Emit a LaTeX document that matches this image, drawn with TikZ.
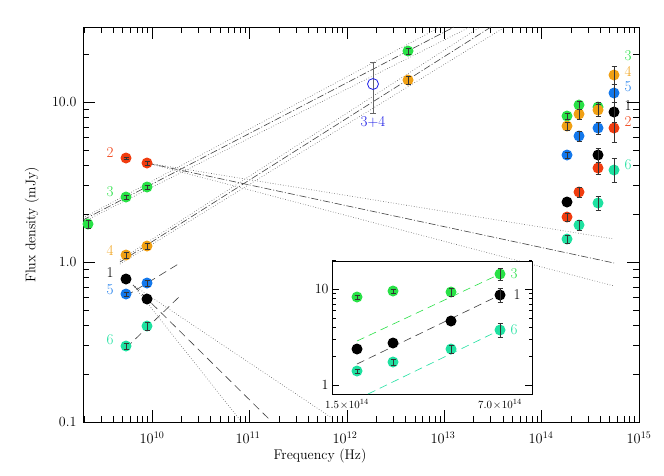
\documentclass[tikz,border=0pt]{standalone}
\usepackage{tikz}
\usetikzlibrary{calc,positioning,arrows.meta}
\definecolor{cred}{RGB}{240,60,15}
\definecolor{cgreen}{RGB}{40,225,70}
\definecolor{corange}{RGB}{240,160,20}
\definecolor{cblue}{RGB}{20,120,235}
\definecolor{ccyan}{RGB}{30,225,160}
\definecolor{cobs}{RGB}{30,30,230}
\tikzset{
  lbl/.style={font=\fontsize{15}{15}\selectfont,inner sep=0pt},
  ticklbl/.style={font=\fontsize{14}{14}\selectfont},
  fit/.style={line width=0.6pt,black!75,dash pattern=on 7pt off 2pt on 1pt off 2pt},
  bound/.style={line width=0.6pt,dotted,black!65},
  dashfit/.style={line width=0.6pt,black!75,dash pattern=on 8pt off 5pt},
}
% data point with error bar: x, y, half height, colour
\newcommand{\datpt}[4]{%
  \fill[#4] (#1,#2) circle (5.5);
  \draw[line width=0.5pt,black!80] (#1,#2-#3) -- (#1,#2+#3)
    (#1-2.5,#2-#3) -- (#1+2.5,#2-#3) (#1-2.5,#2+#3) -- (#1+2.5,#2+#3);}
\begin{document}
\begin{tikzpicture}[x=1pt,y=-1pt]
  \useasboundingbox (0,0) rectangle (664,475);
  % frame
  \draw[line width=0.5pt] (83,27) rectangle (639,422);
  % x ticks
  \foreach \d in {9,...,14}{
    \foreach \m in {1,...,9}{
      \pgfmathsetmacro{\xx}{152+97.4*(\d-10+log10(\m))}
      \pgfmathsetmacro{\tl}{\m==1 ? 12 : 6}
      \ifdim\xx pt>83pt \ifdim\xx pt<639pt
        \draw[line width=0.4pt] (\xx,422) -- ++(0,-\tl) (\xx,27) -- ++(0,\tl);
      \fi\fi}}
  % y ticks
  \foreach \d in {-1,0,1}{
    \foreach \m in {1,...,9}{
      \pgfmathsetmacro{\yy}{262-160*(\d+log10(\m))}
      \pgfmathsetmacro{\tl}{\m==1 ? 12 : 6}
      \ifdim\yy pt>27pt
        \draw[line width=0.4pt] (83,\yy) -- ++(\tl,0) (639,\yy) -- ++(-\tl,0);
      \fi}}
  \node[ticklbl] at (152,438) {$10^{10}$};
  \node[ticklbl] at (248,438) {$10^{11}$};
  \node[ticklbl] at (345,438) {$10^{12}$};
  \node[ticklbl] at (443,438) {$10^{13}$};
  \node[ticklbl] at (541,438) {$10^{14}$};
  \node[ticklbl] at (639,438) {$10^{15}$};
  \node[ticklbl,left] at (80,102) {10.0};
  \node[ticklbl,left] at (80,262) {1.0};
  \node[ticklbl,left] at (80,422) {0.1};
  \node[ticklbl] at (320,456) {Frequency (Hz)};
  \node[ticklbl,rotate=90] at (32,225) {Flux density (mJy)};
  % fits
  \draw[fit] (83,220) -- (454,27);
  \draw[bound] (83,218) -- (440,27);
  \draw[bound] (83,222) -- (470,27);
  \draw[fit] (120,262) -- (491,27);
  \draw[bound] (120,260) -- (480,27);
  \draw[bound] (120,264) -- (505,27);
  \draw[fit] (147,163) -- (614,263);
  \draw[bound] (147,163) -- (614,239);
  \draw[bound] (147,163) -- (614,286);
  \draw[dashfit] (133,285) -- (270,420);
  \draw[bound] (133,285) -- (240,420);
  \draw[bound] (133,285) -- (332,418);
  \draw[dashfit] (126,296) -- (180,263);
  \draw[dashfit] (126,348) -- (180,296);
  % radio and submm points
  \datpt{88}{224}{4}{cgreen}
  \datpt{126}{197}{2}{cgreen}
  \datpt{147}{187}{2}{cgreen}
  \datpt{408}{51}{3}{cgreen}
  \datpt{126}{158}{1}{cred}
  \datpt{147}{163}{2}{cred}
  \datpt{126}{255}{3}{corange}
  \datpt{147}{246}{3}{corange}
  \datpt{408}{80}{4}{corange}
  \fill (126,279) circle (5.5);
  \fill (147,299) circle (5.5);
  \datpt{126}{294}{2}{cblue}
  \datpt{147}{283}{3}{cblue}
  \datpt{126}{346}{3}{ccyan}
  \datpt{147}{326}{4}{ccyan}
  \draw[line width=0.5pt,black!60] (373,62) -- (373,113) (370,62) -- (376,62) (370,113) -- (376,113);
  \draw[cobs,line width=0.8pt] (373,84) circle (5.5);
  \node[lbl,cobs] at (373,122) {3+4};
  % infrared points
  \datpt{567}{116}{3}{cgreen}
  \datpt{579}{105}{4}{cgreen}
  \datpt{598}{107}{5}{cgreen}
  \datpt{567}{126}{4}{corange}
  \datpt{579}{114}{5}{corange}
  \datpt{598}{110}{6}{corange}
  \datpt{614}{75}{9}{corange}
  \datpt{567}{155}{3}{cblue}
  \datpt{579}{136}{5}{cblue}
  \datpt{598}{128}{6}{cblue}
  \datpt{614}{93}{9}{cblue}
  \datpt{567}{217}{4}{cred}
  \datpt{579}{192}{5}{cred}
  \datpt{598}{168}{6}{cred}
  \datpt{614}{128}{14}{cred}
  \datpt{598}{155}{7}{black}
  \datpt{614}{112}{10}{black}
  \fill (567,202) circle (5.5);
  \datpt{567}{239}{4}{ccyan}
  \datpt{579}{225}{5}{ccyan}
  \datpt{598}{203}{7}{ccyan}
  \datpt{614}{170}{12}{ccyan}
  % curve labels
  \node[lbl,cred] at (110,153) {2};
  \node[lbl,cgreen] at (110,192) {3};
  \node[lbl,corange] at (110,250) {4};
  \node[lbl] at (110,273) {1};
  \node[lbl,cblue] at (110,290) {5};
  \node[lbl,ccyan] at (110,340) {6};
  \node[lbl,cgreen] at (628,56) {3};
  \node[lbl,corange] at (628,71) {4};
  \node[lbl,cblue] at (628,87) {5};
  \node[lbl] at (628,106) {1};
  \node[lbl,cred] at (628,122) {2};
  \node[lbl,ccyan] at (628,165) {6};
  % inset
  \fill[white] (332,261) rectangle (532,394);
  \draw[line width=0.5pt] (332,261) rectangle (532,394);
  \foreach \m in {1,...,9}{
    \pgfmathsetmacro{\yy}{385-96*log10(\m)}
    \pgfmathsetmacro{\tl}{\m==1 ? 7 : 3.5}
    \draw[line width=0.4pt] (332,\yy) -- ++(\tl,0) (532,\yy) -- ++(-\tl,0);}
  \pgfmathsetmacro{\yy}{385-96}
  \draw[line width=0.4pt] (332,\yy) -- ++(7,0) (532,\yy) -- ++(-7,0);
  \pgfmathsetmacro{\yy}{385-96*log10(20)}
  \draw[line width=0.4pt] (332,\yy) -- ++(3.5,0) (532,\yy) -- ++(-3.5,0);
  \node[ticklbl,left] at (332,289) {10};
  \node[ticklbl,left] at (332,385) {1};
  \node[font=\fontsize{11}{11}\selectfont] at (347,404) {$1.5\!\times\!10^{14}$};
  \node[font=\fontsize{11}{11}\selectfont] at (500,404) {$7.0\!\times\!10^{14}$};
  \draw[dashfit,cgreen] (357,341) -- (500,274);
  \draw[dashfit] (357,364) -- (500,295);
  \draw[dashfit,ccyan] (368,394) -- (500,330);
  \datpt{357}{297}{2}{cgreen}
  \datpt{393}{291}{2}{cgreen}
  \datpt{451}{292}{4}{cgreen}
  \datpt{500}{274}{6}{cgreen}
  \fill (357,349) circle (5.5);
  \fill (393,343) circle (5.5);
  \fill (451,321) circle (5.5);
  \datpt{500}{295}{7}{black}
  \datpt{357}{371}{2}{ccyan}
  \datpt{393}{362}{3}{ccyan}
  \datpt{451}{349}{4}{ccyan}
  \datpt{500}{330}{7}{ccyan}
  \node[lbl,cgreen] at (514,274) {3};
  \node[lbl] at (517,295) {1};
  \node[lbl,ccyan] at (514,330) {6};
\end{tikzpicture}
\end{document}
